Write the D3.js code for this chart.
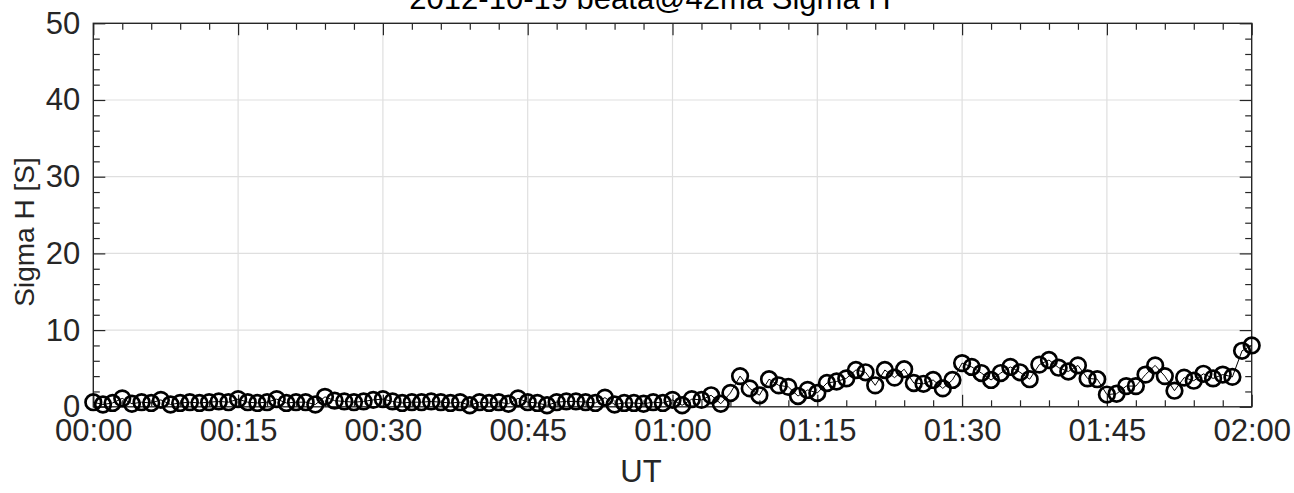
<!DOCTYPE html>
<html><head><meta charset="utf-8">
<script src="https://cdn.jsdelivr.net/npm/d3@7"></script>
<style>
html,body{margin:0;padding:0;background:#fff;}
svg{display:block;font-family:"Liberation Sans",Arial,Helvetica,sans-serif;}
</style></head>
<body>
<svg id="chart" width="1294" height="493"></svg>
<script>
// minutes after 00:00 UT on 2012-10-19
const minutes = d3.range(0, 121);
const sigmaH = [
 0.6,0.3,0.5,1.1,0.4,0.6,0.5,0.9,0.3,0.5,
 0.6,0.5,0.6,0.7,0.6,1.0,0.6,0.5,0.6,1.0,
 0.5,0.6,0.6,0.3,1.3,0.8,0.7,0.6,0.7,0.9,
 1.0,0.7,0.5,0.6,0.6,0.7,0.6,0.5,0.6,0.2,
 0.6,0.5,0.6,0.4,1.1,0.6,0.5,0.2,0.6,0.7,
 0.7,0.6,0.5,1.2,0.3,0.5,0.5,0.4,0.6,0.5,
 0.9,0.2,1.0,0.9,1.5,0.4,1.8,4.0,2.4,1.5,
 3.6,2.8,2.6,1.4,2.2,1.8,3.1,3.3,3.7,4.8,
 4.5,2.8,4.8,3.8,4.9,3.1,3.0,3.5,2.4,3.5,
 5.7,5.2,4.4,3.5,4.4,5.2,4.5,3.6,5.5,6.1,
 5.1,4.6,5.4,3.7,3.6,1.6,1.7,2.7,2.7,4.2,
 5.4,4.0,2.1,3.8,3.4,4.3,3.7,4.2,3.9,7.3,8.0
];
const xTickMinutes = [0,15,30,45,60,75,90,105,120];
const xTickLabels = ["00:00","00:15","00:30","00:45","01:00","01:15","01:30","01:45","02:00"];
const yTicks = [0,10,20,30,40,50];
const titleText = "2012-10-19  beata@42ma Sigma H";
const xLabelText = "UT";
const yLabelText = "Sigma H [S]";

const L = 93.3, R = 1251.7, T = 23.3, B = 406.8;
const ink = "#262626";
const svg = d3.select("#chart");
const x = d3.scaleLinear().domain([0,120]).range([L,R]);
const y = d3.scaleLinear().domain([0,50]).range([B,T]);

// grid
const grid = svg.append("g");
grid.selectAll("line.gx").data(xTickMinutes.slice(1,-1)).join("line")
  .attr("x1",d=>x(d)).attr("x2",d=>x(d)).attr("y1",T).attr("y2",B)
  .attr("stroke","#dfdfdf").attr("stroke-width",1.2);
grid.selectAll("line.gy").data(yTicks.slice(1,-1)).join("line")
  .attr("y1",d=>y(d)).attr("y2",d=>y(d)).attr("x1",L).attr("x2",R)
  .attr("stroke","#dfdfdf").attr("stroke-width",1.2);

// axes with inward ticks
const fs = 31;
const xMinor = d3.range(0,121,3).filter(v=>v%15!==0);
const yMinor = d3.range(0,51,2).filter(v=>v%10!==0);
function styleAxis(g){
  g.select(".domain").remove();
  g.selectAll(".tick line").attr("stroke",ink).attr("stroke-width",1.2);
  g.selectAll(".tick text").attr("fill",ink).attr("font-size",fs).attr("font-family","Liberation Sans, Arial, sans-serif");
}
function plainTicks(g){
  g.select(".domain").remove();
  g.selectAll(".tick line").attr("stroke",ink).attr("stroke-width",1.2);
}
const xb = svg.append("g").attr("transform",`translate(0,${B})`)
  .call(d3.axisBottom(x).tickValues(xTickMinutes).tickSizeInner(-12).tickSizeOuter(0)
    .tickPadding(12).tickFormat((d,i)=>xTickLabels[i]));
styleAxis(xb);
xb.selectAll(".tick text").attr("dy","0.71em");
svg.append("g").attr("transform",`translate(0,${B})`)
  .call(d3.axisBottom(x).tickValues(xMinor).tickSizeInner(-6.5).tickSizeOuter(0).tickFormat(""))
  .call(plainTicks);
svg.append("g").attr("transform",`translate(0,${T})`)
  .call(d3.axisTop(x).tickValues(xTickMinutes).tickSizeInner(-12).tickSizeOuter(0).tickFormat(""))
  .call(plainTicks);
svg.append("g").attr("transform",`translate(0,${T})`)
  .call(d3.axisTop(x).tickValues(xMinor).tickSizeInner(-6.5).tickSizeOuter(0).tickFormat(""))
  .call(plainTicks);

const yl = svg.append("g").attr("transform",`translate(${L},0)`)
  .call(d3.axisLeft(y).tickValues(yTicks).tickSizeInner(-12).tickSizeOuter(0).tickPadding(13));
styleAxis(yl);
svg.append("g").attr("transform",`translate(${L},0)`)
  .call(d3.axisLeft(y).tickValues(yMinor).tickSizeInner(-6.5).tickSizeOuter(0).tickFormat(""))
  .call(plainTicks);
svg.append("g").attr("transform",`translate(${R},0)`)
  .call(d3.axisRight(y).tickValues(yTicks).tickSizeInner(-12).tickSizeOuter(0).tickFormat(""))
  .call(plainTicks);
svg.append("g").attr("transform",`translate(${R},0)`)
  .call(d3.axisRight(y).tickValues(yMinor).tickSizeInner(-6.5).tickSizeOuter(0).tickFormat(""))
  .call(plainTicks);

// box
svg.append("rect").attr("x",L).attr("y",T).attr("width",R-L).attr("height",B-T)
  .attr("fill","none").attr("stroke",ink).attr("stroke-width",1.4);

// data line + markers
const pts = minutes.map((m,i)=>[m,sigmaH[i]]);
svg.append("path").datum(pts)
  .attr("d",d3.line().x(d=>x(d[0])).y(d=>y(d[1])))
  .attr("fill","none").attr("stroke","#000").attr("stroke-width",1);
svg.append("g").selectAll("circle").data(pts).join("circle")
  .attr("cx",d=>x(d[0])).attr("cy",d=>y(d[1])).attr("r",7.8)
  .attr("fill","none").attr("stroke","#000").attr("stroke-width",2.7);

// labels
svg.append("text").attr("x",650).attr("y",9).attr("text-anchor","middle")
  .attr("font-size",31).attr("fill","#000").text(titleText);
svg.append("text").attr("x",641).attr("y",482).attr("text-anchor","middle")
  .attr("font-size",31).attr("fill",ink).text(xLabelText);
svg.append("text").attr("transform",`translate(34,232) rotate(-90)`)
  .attr("text-anchor","middle").attr("font-size",28).attr("fill",ink).text(yLabelText);
</script>
</body></html>
